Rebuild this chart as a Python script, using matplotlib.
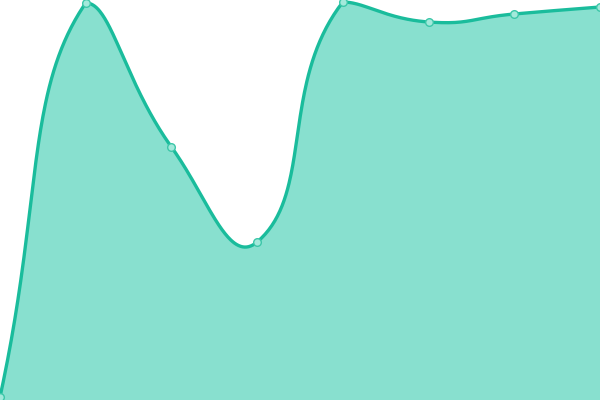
import numpy as np
import matplotlib
matplotlib.use("Agg")
import matplotlib.pyplot as plt

categories = ["A", "B", "C", "D", "E", "F", "G", "H"]
values = [3, 397, 253, 158, 398, 378, 386, 393]

fig = plt.figure(figsize=(6, 4), dpi=100)
ax = fig.add_axes([0, 0, 1, 1])
ax.set_xlim(0, len(values) - 1)
ax.set_ylim(0, 400)
ax.axis("off")

x = np.arange(len(values), dtype=float)
y = np.array(values, dtype=float)

# smooth in display space (bezier with control points constrained to the points' bounding box)
P = ax.transData.transform(np.column_stack([x, y]))
lo, hi = P.min(axis=0), P.max(axis=0)
smooth = 0.5
n = len(P)
cps = []
for i in range(n):
    prev = P[i - 1] if i > 0 else P[i]
    nxt = P[i + 1] if i < n - 1 else P[i]
    v = (nxt - prev) * smooth
    d0 = np.linalg.norm(P[i] - prev)
    d1 = np.linalg.norm(P[i] - nxt)
    s = d0 + d1
    if s:
        d0, d1 = d0 / s, d1 / s
    c0 = np.clip(P[i] - v * d0, lo, hi)
    c1 = np.clip(P[i] + v * d1, lo, hi)
    cps.append((c0, c1))

curve = [P[0][None, :]]
t = np.linspace(0, 1, 80)[1:, None]
for i in range(n - 1):
    p0, p3 = P[i], P[i + 1]
    p1, p2 = cps[i][1], cps[i + 1][0]
    seg = ((1 - t) ** 3) * p0 + 3 * ((1 - t) ** 2) * t * p1 + 3 * (1 - t) * t ** 2 * p2 + t ** 3 * p3
    curve.append(seg)
curve = np.vstack(curve)
D = ax.transData.inverted().transform(curve)
sx, sy = D[:, 0], D[:, 1]

ax.fill_between(sx, 0, sy, color="#88e0cf", linewidth=0)
ax.plot(sx, sy, color="#1abc9c", linewidth=2.4, solid_capstyle="round")
ax.plot(x, y, "o", markersize=5.5, markerfacecolor="#a3e9db", markeredgecolor="#3cc7a9",
        markeredgewidth=1.0, clip_on=False)
fig.savefig("out.png", dpi=100)
